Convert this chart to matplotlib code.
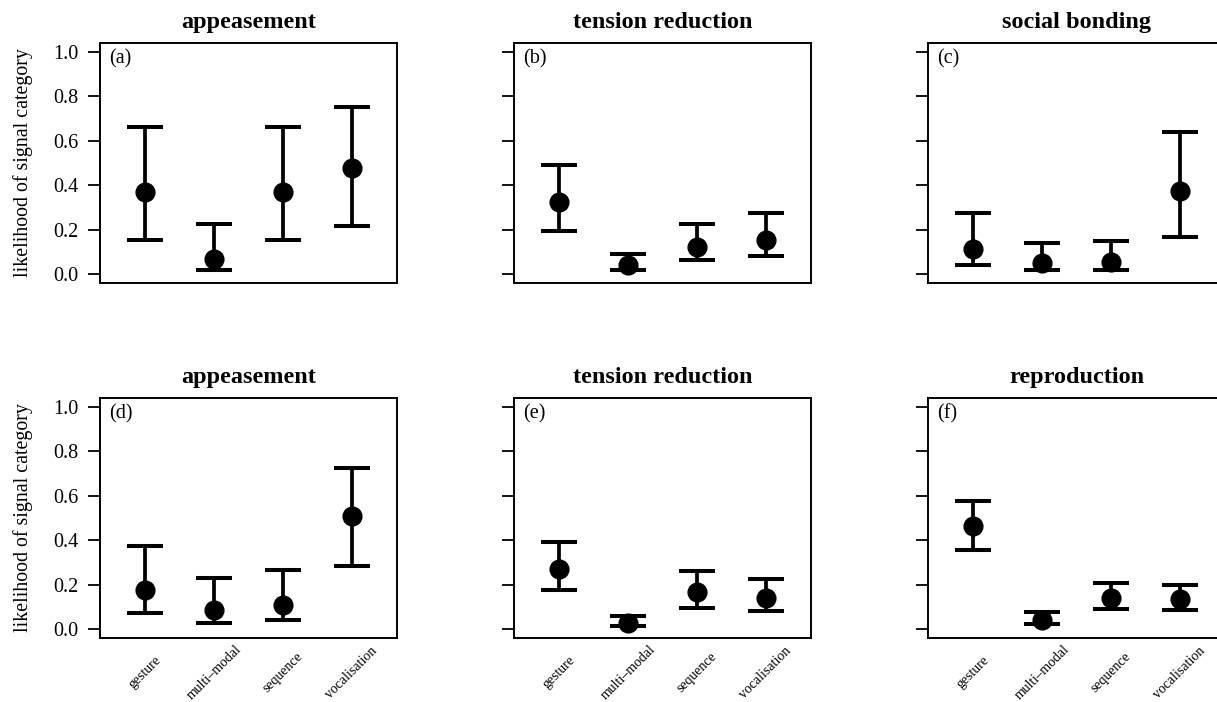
import matplotlib
matplotlib.use("Agg")
import matplotlib.pyplot as plt
import numpy as np

# signal categories on the x axis
categories = ["gesture", "multi\u2013modal", "sequence", "vocalisation"]

# panel titles and letters
titles = ["appeasement", "tension reduction", "social bonding",
          "appeasement", "tension reduction", "reproduction"]
letters = ["(a)", "(b)", "(c)", "(d)", "(e)", "(f)"]

# estimated likelihood with lower and upper interval, per panel
mean_a = [0.371, 0.068, 0.371, 0.477]
low_a = [0.152, 0.018, 0.152, 0.215]
high_a = [0.662, 0.224, 0.662, 0.750]

mean_b = [0.324, 0.041, 0.123, 0.153]
low_b = [0.194, 0.018, 0.064, 0.080]
high_b = [0.491, 0.089, 0.227, 0.276]

mean_c = [0.114, 0.050, 0.053, 0.373]
low_c = [0.041, 0.018, 0.018, 0.165]
high_c = [0.277, 0.139, 0.150, 0.638]

mean_d = [0.177, 0.086, 0.108, 0.508]
low_d = [0.071, 0.029, 0.039, 0.286]
high_d = [0.376, 0.229, 0.265, 0.727]

mean_e = [0.270, 0.026, 0.167, 0.139]
low_e = [0.176, 0.012, 0.097, 0.080]
high_e = [0.394, 0.059, 0.261, 0.226]

mean_f = [0.465, 0.039, 0.141, 0.135]
low_f = [0.355, 0.024, 0.091, 0.086]
high_f = [0.577, 0.076, 0.209, 0.200]

means = [mean_a, mean_b, mean_c, mean_d, mean_e, mean_f]
lows = [low_a, low_b, low_c, low_d, low_e, low_f]
highs = [high_a, high_b, high_c, high_d, high_e, high_f]

plt.rcParams["font.family"] = ["Liberation Serif", "DejaVu Serif"]

fig = plt.figure(figsize=(12.17, 7.02), dpi=100)

W, H = 1217.0, 702.0
lefts = [100, 514, 928]
tops = [43, 398]
aw, ah = 297, 240

x = np.arange(1, 5)

for i in range(6):
    row, col = divmod(i, 3)
    ax = fig.add_axes([lefts[col] / W, 1 - (tops[row] + ah) / H, aw / W, ah / H])

    m = np.array(means[i])
    lo = np.array(lows[i])
    hi = np.array(highs[i])
    ax.errorbar(x, m, yerr=[m - lo, hi - m], fmt="o", color="black",
                markersize=13.5, elinewidth=2.7, capsize=13, capthick=2.9)

    ax.set_xlim(0.34, 4.66)
    ax.set_ylim(-0.04, 1.04)
    ax.set_yticks([0, 0.2, 0.4, 0.6, 0.8, 1.0])
    ax.set_yticklabels(["0.0", "0.2", "0.4", "0.6", "0.8", "1.0"])
    ax.set_xticks([])
    ax.tick_params(axis="y", length=8.5, width=1.3, pad=7, labelsize=14.5,
                   labelleft=(col == 0))
    for s in ax.spines.values():
        s.set_linewidth(1.4)

    ax.set_title(titles[i], fontsize=17.5, fontweight="bold", pad=11)
    ax.text(0.03, 0.975, letters[i], transform=ax.transAxes,
            ha="left", va="top", fontsize=14.5)

    if col == 0:
        ax.text(-0.258, 0.5, "likelihood of signal category",
                transform=ax.transAxes, rotation=90, ha="center",
                va="center", fontsize=14.3)

    # rotated category names under the bottom row
    if row == 1:
        for xi, lab in zip(x, categories):
            ax.text(xi, -0.195, lab, rotation=45, ha="center", va="center",
                    rotation_mode="anchor", fontsize=10, clip_on=False)

fig.savefig("out.png", dpi=100)
